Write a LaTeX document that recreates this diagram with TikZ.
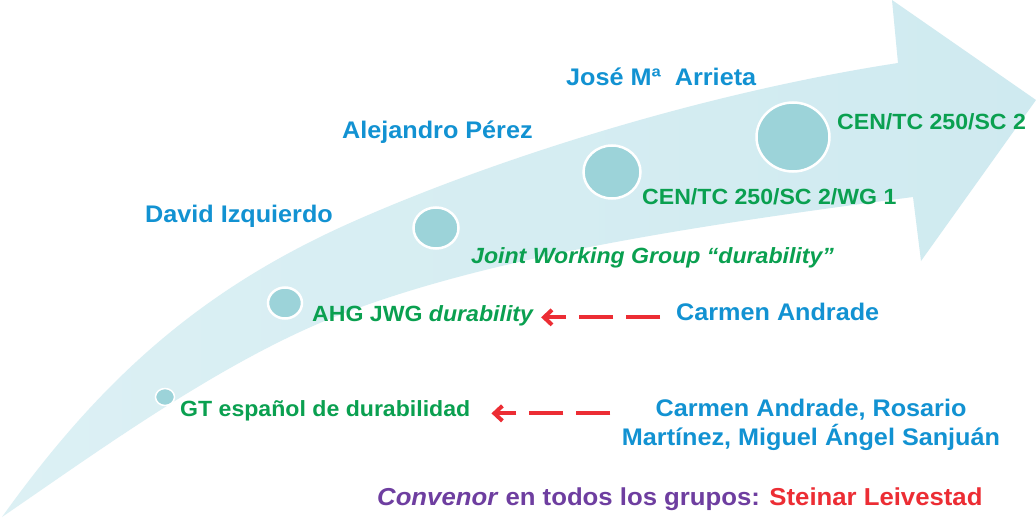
\documentclass[tikz,border=0pt]{standalone}
\usepackage{fontspec}
\setmainfont{Liberation Sans}[FakeStretch=1.05]
\usetikzlibrary{arrows.meta,shapes.geometric}
\definecolor{nameblue}{RGB}{18,146,210}
\definecolor{labgreen}{RGB}{10,160,80}
\definecolor{arrred}{RGB}{236,45,52}
\definecolor{convpurple}{RGB}{110,62,160}
\definecolor{bandL}{RGB}{220,240,244}
\definecolor{bandR}{RGB}{207,234,240}
\definecolor{dotfill}{RGB}{156,211,217}
\begin{document}
\begin{tikzpicture}[x=1pt,y=-1pt,
  person/.style={font=\fontsize{24}{28}\selectfont\bfseries, text=nameblue, inner sep=0pt, anchor=base west},
  grp/.style={font=\fontsize{22}{26}\selectfont\bfseries, text=labgreen, inner sep=0pt, anchor=base west},
  dot/.style={ellipse, fill=dotfill, draw=white, line width=2.5pt, inner sep=0pt},
  redarr/.style={draw=arrred, line width=4pt, dash pattern=on 34pt off 13pt, -{Straight Barb[length=8pt,width=15pt]}}]
\useasboundingbox (0,0) rectangle (1036,519);
\fill[white] (0,0) rectangle (1036,519);
% big curved arrow
\shade[left color=bandL, right color=bandR]
  (2,517) .. controls (100,380) and (200,290) .. (350,223)
  .. controls (480,165) and (690,95) .. (898,63)
  -- (892,0) -- (1036,100) -- (921,261) -- (913,197)
  .. controls (700,225) and (500,255) .. (350,311)
  .. controls (230,355) and (100,450) .. (2,517) -- cycle;
% dots
\node[dot, minimum width=19pt, minimum height=17pt, line width=1.5pt] (d1) at (165,397) {};
\node[dot, minimum width=34pt, minimum height=31pt] (d2) at (285,303) {};
\node[dot, minimum width=45pt, minimum height=41pt] (d3) at (436,228) {};
\node[dot, minimum width=57pt, minimum height=53pt] (d4) at (612,172) {};
\node[dot, minimum width=73pt, minimum height=69pt] (d5) at (793,137) {};
% names
\node[person] (jose) at (566,85) {José Mª\ \ Arrieta};
\node[person] (alej) at (342,138) {Alejandro Pérez};
\node[person] (david) at (145,222) {David Izquierdo};
\node[person] (carmen) at (676,320) {Carmen Andrade};
\node[person, anchor=base] (team1) at (811,416) {Carmen Andrade, Rosario};
\node[person, anchor=base] (team2) at (811,445) {Martínez, Miguel Ángel Sanjuán};
% groups
\node[grp] (sc2) at (837,129) {CEN/TC 250/SC 2};
\node[grp] (wg1) at (642,204) {CEN/TC 250/SC 2/WG 1};
\node[grp] (jwg) at (471,263) {\itshape Joint Working Group “durability”};
\node[grp] (ahg) at (312,321) {AHG JWG \textit{durability}};
\node[grp] (gt) at (180,416) {GT español de durabilidad};
% convenor
\node[font=\fontsize{24.5}{28}\selectfont\bfseries, text=convpurple, inner sep=0pt, anchor=base west] (conv) at (377,505) {\textit{Convenor} en todos los grupos: \textcolor{arrred}{Steinar Leivestad}};
% arrows
\draw[redarr, shorten <=16pt, shorten >=7pt] (carmen.mid west) -- (ahg.mid east |- carmen.mid west);
\draw[redarr, shorten <=45pt, shorten >=21pt] (team1.mid west) -- (gt.mid east |- team1.mid west);
\end{tikzpicture}
\end{document}
